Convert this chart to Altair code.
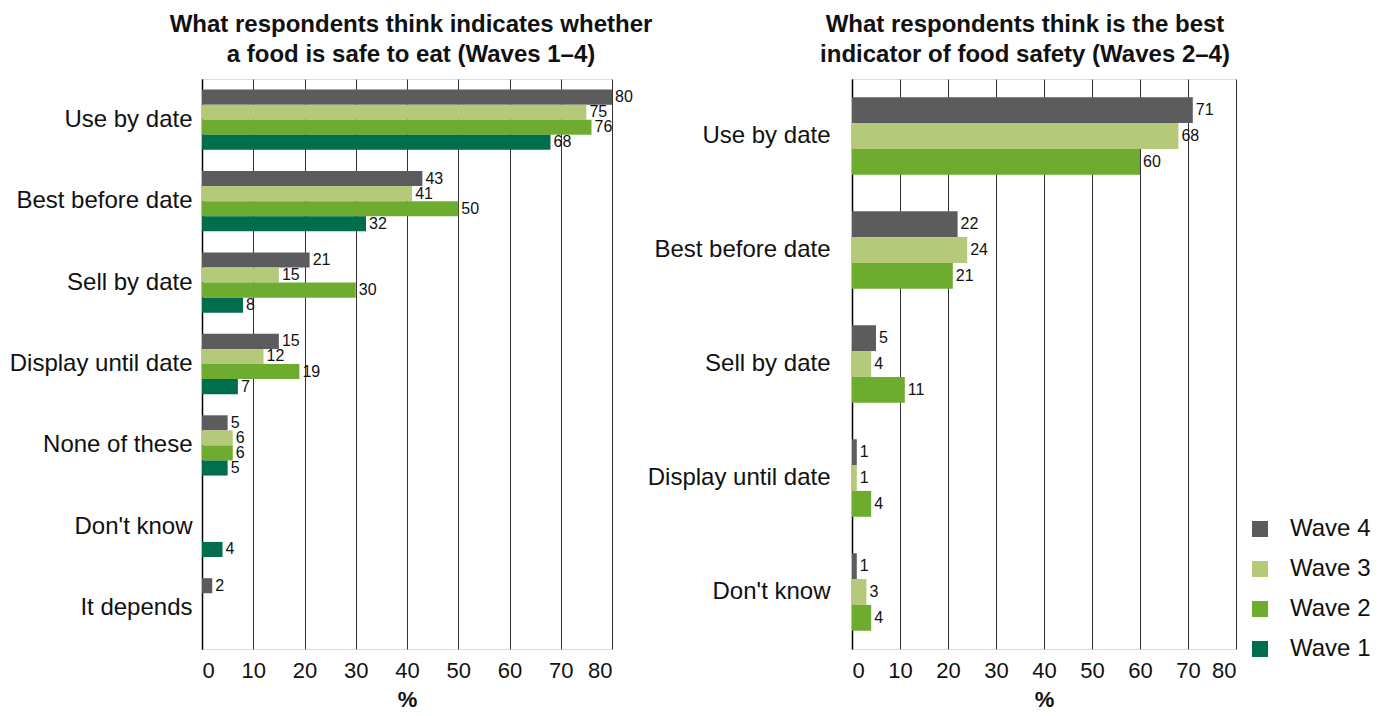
import altair as alt
import pandas as pd

FONT = "Liberation Sans"

waves_all = ["Wave 4", "Wave 3", "Wave 2", "Wave 1"]
wave_colors = ["#5c5c5e", "#b5c97a", "#6dac2f", "#006e4d"]

# Left panel: what indicates whether a food is safe to eat (Waves 1-4)
left_categories = ["Use by date", "Best before date", "Sell by date", "Display until date",
                   "None of these", "Don't know", "It depends"]
left_wave4 = [80, 43, 21, 15, 5, None, 2]
left_wave3 = [75, 41, 15, 12, 6, None, None]
left_wave2 = [76, 50, 30, 19, 6, None, None]
left_wave1 = [68, 32, 8, 7, 5, 4, None]

# Right panel: best indicator of food safety (Waves 2-4)
right_categories = ["Use by date", "Best before date", "Sell by date", "Display until date", "Don't know"]
right_wave4 = [71, 22, 5, 1, 1]
right_wave3 = [68, 24, 4, 1, 3]
right_wave2 = [60, 21, 11, 4, 4]

x_ticks = [0, 10, 20, 30, 40, 50, 60, 70, 80]


def build(categories, series):
    rows = []
    for wave, vals in series:
        for c, v in zip(categories, vals):
            if v is not None:
                rows.append({"category": c, "wave": wave, "value": v})
    return pd.DataFrame(rows)


left_df = build(left_categories, [("Wave 4", left_wave4), ("Wave 3", left_wave3),
                                  ("Wave 2", left_wave2), ("Wave 1", left_wave1)])
right_df = build(right_categories, [("Wave 4", right_wave4), ("Wave 3", right_wave3),
                                    ("Wave 2", right_wave2)])


def panel(df, categories, waves, title, width, pad_inner, label_pad, title_dx, legend):
    y = alt.Y("category:N", sort=categories,
              scale=alt.Scale(domain=categories, paddingInner=pad_inner, paddingOuter=pad_inner / 2),
              axis=alt.Axis(title=None, labelFontSize=24, labelPadding=label_pad, ticks=False,
                            domainColor="#000000", domainWidth=1.5, labelColor="#111111",
                            labelFont=FONT, labelLimit=300))
    x = alt.X("value:Q", scale=alt.Scale(domain=[0, 80], nice=False),
              axis=alt.Axis(values=x_ticks, title="%", titleFontSize=22, titleFontWeight="bold",
                            titleFont=FONT, titleColor="#111111", titlePadding=8,
                            labelFontSize=22, labelFont=FONT, labelColor="#111111",
                            labelPadding=11, ticks=False, domain=False, grid=True,
                            gridColor="#333333", gridWidth=1))
    yoff = alt.YOffset("wave:N", sort=waves, scale=alt.Scale(domain=waves))
    if legend:
        leg = alt.Legend(title=None, orient="none", legendX=396, legendY=438,
                         symbolType="square", symbolSize=256, symbolStrokeWidth=0,
                         labelFontSize=24, labelFont=FONT, labelColor="#111111",
                         labelOffset=18, rowPadding=16, padding=0)
    else:
        leg = None
    color = alt.Color("wave:N", scale=alt.Scale(domain=waves_all, range=wave_colors), legend=leg)
    base = alt.Chart(df)
    bars = base.mark_bar().encode(y=y, x=x, yOffset=yoff, color=color)
    labels = base.mark_text(align="left", baseline="middle", dx=3, fontSize=16, font=FONT,
                            color="#111111").encode(
        y=alt.Y("category:N", sort=categories), x="value:Q", yOffset=yoff, text="value:Q")
    return alt.layer(bars, labels).properties(
        width=width, height=570,
        title=alt.TitleParams(title, fontSize=24, fontWeight="bold", font=FONT, color="#111111",
                              anchor="middle", offset=12, lineHeight=30, dx=title_dx))


left = panel(left_df, left_categories, waves_all,
             ["What respondents think indicates whether", "a food is safe to eat (Waves 1–4)"],
             410, 0.26, 10, 4, False)
right = panel(right_df, right_categories, ["Wave 4", "Wave 3", "Wave 2"],
              ["What respondents think is the best", "indicator of food safety (Waves 2–4)"],
              384, 0.32, 22, -19, True)

chart = alt.hconcat(left, right, spacing=240, bounds="flush").resolve_scale(
    color="independent", y="independent", x="independent", yOffset="independent"
).properties(
    padding={"left": 0, "top": 4, "right": 0, "bottom": 0}
).configure_view(stroke=None).configure(background="white")

chart.save("out.html", embed_options={"renderer": "svg", "actions": False})
